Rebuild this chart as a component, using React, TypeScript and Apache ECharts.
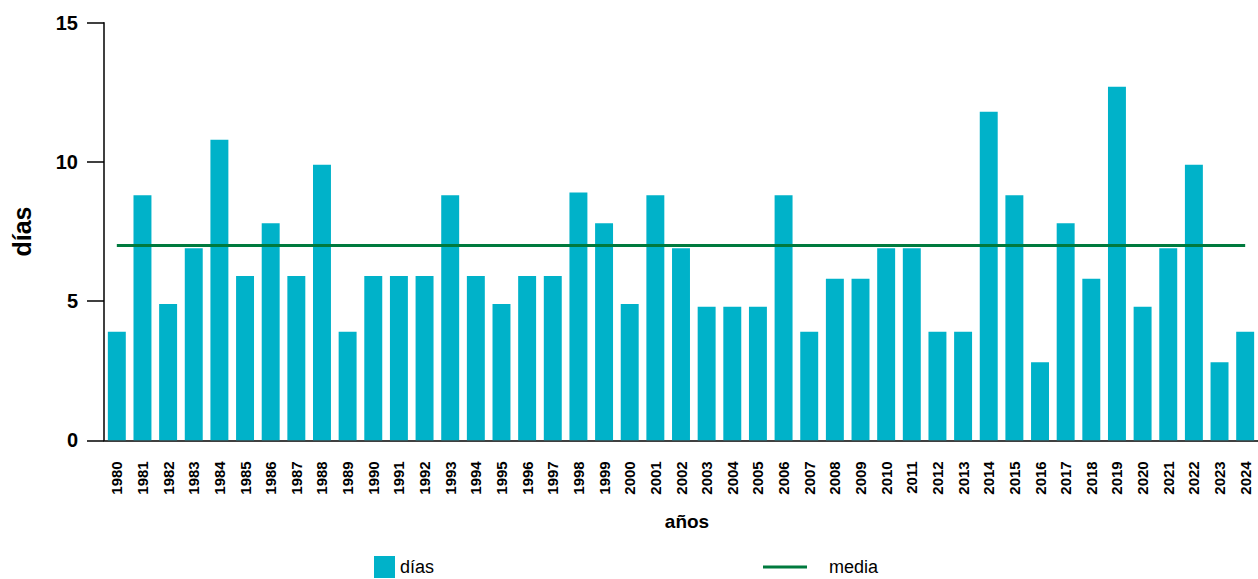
import React, { useEffect, useRef } from "react";
import * as echarts from "echarts";

const years: string[] = [
  "1980", "1981", "1982", "1983", "1984", "1985", "1986", "1987", "1988", "1989",
  "1990", "1991", "1992", "1993", "1994", "1995", "1996", "1997", "1998", "1999",
  "2000", "2001", "2002", "2003", "2004", "2005", "2006", "2007", "2008", "2009",
  "2010", "2011", "2012", "2013", "2014", "2015", "2016", "2017", "2018", "2019",
  "2020", "2021", "2022", "2023", "2024",
];

const dias: number[] = [
  3.9, 8.8, 4.9, 6.9, 10.8, 5.9, 7.8, 5.9, 9.9, 3.9,
  5.9, 5.9, 5.9, 8.8, 5.9, 4.9, 5.9, 5.9, 8.9, 7.8,
  4.9, 8.8, 6.9, 4.8, 4.8, 4.8, 8.8, 3.9, 5.8, 5.8,
  6.9, 6.9, 3.9, 3.9, 11.8, 8.8, 2.8, 7.8, 5.8, 12.7,
  4.8, 6.9, 9.9, 2.8, 3.9,
];

const mediaValue = 7.0;
const yTicks = { min: 0, max: 15, interval: 5 };

const FONT = '"Liberation Sans", Arial, sans-serif';
const BAR = "#00B2C9";
const GREEN = "#007A3E";

export default function App() {
  const ref = useRef<HTMLDivElement | null>(null);

  useEffect(() => {
    if (!ref.current) return;
    const chart = echarts.init(ref.current, undefined, { renderer: "svg" });
    const media = years.map(() => mediaValue);
    chart.setOption({
      animation: false,
      backgroundColor: "#ffffff",
      textStyle: { fontFamily: FONT },
      grid: { left: 104, right: -4, top: 22.7, bottom: 138.7, containLabel: false },
      legend: [
        {
          data: ["días"],
          left: 374,
          top: 556,
          padding: 0,
          icon: "rect",
          itemWidth: 21,
          itemHeight: 22,
          textStyle: { fontFamily: FONT, fontSize: 18, color: "#000" },
        },
        {
          data: ["media"],
          left: 763,
          top: 558,
          padding: 0,
          icon: "rect",
          itemWidth: 44,
          itemHeight: 3,
          textStyle: { fontFamily: FONT, fontSize: 18, color: "#000", padding: [0, 0, 0, 17] },
        },
      ],
      xAxis: {
        type: "category",
        data: years,
        boundaryGap: true,
        name: "años",
        nameLocation: "middle",
        nameGap: 72,
        nameTextStyle: { fontFamily: FONT, fontSize: 19, fontWeight: "bold", color: "#000", padding: [0, 0, 0, 12] },
        axisLine: { lineStyle: { color: "#000", width: 1.5 } },
        axisTick: { alignWithLabel: true, interval: 0, length: 19, lineStyle: { color: "#000", width: 1.5 } },
        axisLabel: {
          interval: 0,
          rotate: 90,
          margin: 21,
          fontFamily: FONT,
          fontSize: 15,
          fontWeight: "bold",
          color: "#000",
        },
        splitLine: { show: false },
      },
      yAxis: {
        type: "value",
        min: yTicks.min,
        max: yTicks.max,
        interval: yTicks.interval,
        name: "días",
        nameLocation: "middle",
        nameRotate: 90,
        nameGap: 70,
        nameTextStyle: { fontFamily: FONT, fontSize: 25, fontWeight: "bold", color: "#000" },
        axisLine: { show: true, lineStyle: { color: "#000", width: 1.5 } },
        axisTick: { show: true, length: 17, lineStyle: { color: "#000", width: 1.5 } },
        axisLabel: { margin: 26, fontFamily: FONT, fontSize: 20, fontWeight: "bold", color: "#000" },
        splitLine: { show: false },
      },
      series: [
        {
          name: "días",
          type: "bar",
          data: dias,
          barCategoryGap: "30%",
          itemStyle: { color: BAR },
        },
        {
          name: "media",
          type: "line",
          data: media,
          symbol: "none",
          showSymbol: false,
          lineStyle: { color: GREEN, width: 3 },
          itemStyle: { color: GREEN },
          z: 3,
        },
      ],
    });
    return () => chart.dispose();
  }, []);

  return (
    <div
      ref={ref}
      style={{ position: "fixed", left: 0, top: 0, width: 1258, height: 579, background: "#fff" }}
    />
  );
}
